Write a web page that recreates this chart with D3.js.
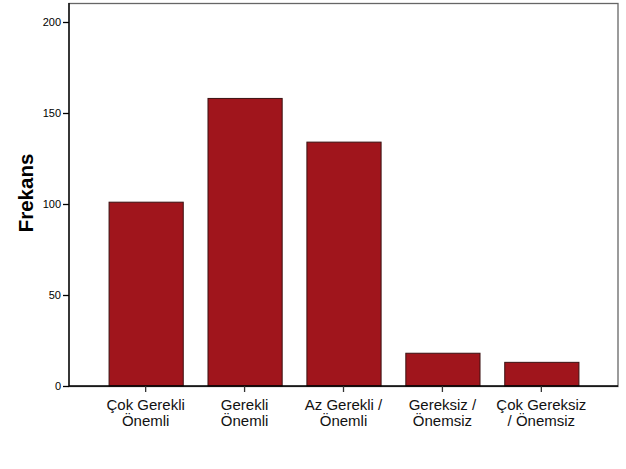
<!DOCTYPE html>
<html><head><meta charset="utf-8">
<script src="https://cdn.jsdelivr.net/npm/d3@7"></script>
<style>body{margin:0;background:#fff}svg{display:block}</style>
</head><body>
<script>
const categories = [["Çok Gerekli","Önemli"],["Gerekli","Önemli"],["Az Gerekli /","Önemli"],["Gereksiz /","Önemsiz"],["Çok Gereksiz","/ Önemsiz"]];
const values = [101, 158, 134, 18, 13];
const yTicks = [0, 50, 100, 150, 200];
const yLabel = "Frekans";

const W = 626, H = 469;
const mLeft = 69, mRight = 618, mTop = 3, mBottom = 386;
const svg = d3.select("body").append("svg").attr("width", W).attr("height", H)
  .style("font-family", "'Liberation Sans', Arial, sans-serif");

const x = d3.scaleBand().domain(d3.range(categories.length)).range([mLeft, mRight])
  .paddingInner(0.25).paddingOuter(0.4);
const y = d3.scaleLinear().domain([0, 200]).range([mBottom, 22]);

// frame
svg.append("rect").attr("x", mLeft).attr("y", mTop + 0.5).attr("width", mRight - mLeft).attr("height", mBottom - mTop)
  .attr("fill", "none").attr("stroke", "#666").attr("stroke-width", 1.3);

// bars
svg.selectAll("rect.bar").data(values).join("rect").attr("class", "bar")
  .attr("x", (d, i) => x(i) + 0.5).attr("width", x.bandwidth())
  .attr("y", d => y(d)).attr("height", d => y(0) - y(d))
  .attr("fill", "#a0151c").attr("stroke", "#3b1212").attr("stroke-width", 1);

// y axis
const ya = svg.append("g").attr("transform", `translate(${mLeft},0)`)
  .call(d3.axisLeft(y).tickValues(yTicks).tickSize(6).tickPadding(2).tickFormat(d3.format("d")));
ya.select(".domain").attr("stroke", "#000").attr("stroke-width", 1.3).attr("d", `M0,${mTop}V${mBottom}`);
ya.selectAll(".tick line").attr("stroke", "#000").attr("stroke-width", 1.3);
ya.selectAll(".tick text").attr("font-size", 11).attr("fill", "#000").attr("font-family", "'Liberation Sans', Arial, sans-serif");

// x axis
const xa = svg.append("g").attr("transform", `translate(0,${mBottom})`)
  .call(d3.axisBottom(x).tickSize(6).tickFormat(""));
xa.select(".domain").attr("stroke", "#000").attr("stroke-width", 1.3).attr("d", `M${mLeft},0H${mRight}`);
xa.selectAll(".tick line").attr("stroke", "#333").attr("stroke-width", 1.3);
xa.selectAll(".tick").each(function(d) {
  const t = d3.select(this).append("text").attr("fill", "#111").attr("font-size", 15)
    .attr("text-anchor", "middle").attr("font-family", "'Liberation Sans', Arial, sans-serif");
  categories[d].forEach((line, k) => t.append("tspan").attr("x", 0).attr("y", 24 + k * 15.5).text(line));
});

// y label
svg.append("text").attr("transform", `translate(33,193) rotate(-90)`)
  .attr("text-anchor", "middle").attr("font-size", 20.5).attr("font-weight", "bold").attr("fill", "#000")
  .text(yLabel);
</script>
</body></html>
